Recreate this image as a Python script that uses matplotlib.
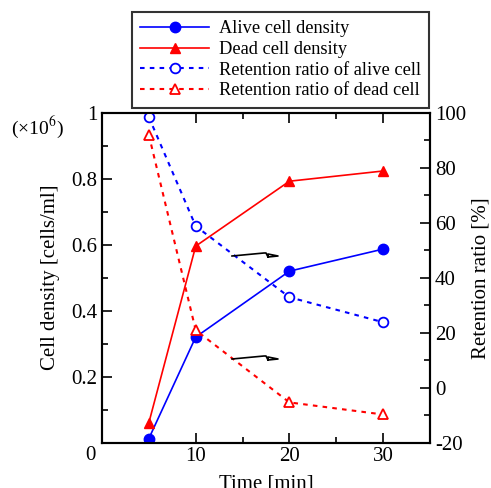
import matplotlib
matplotlib.use("Agg")
import matplotlib.pyplot as plt
from matplotlib.ticker import MultipleLocator, FuncFormatter
from matplotlib.lines import Line2D

plt.rcParams['font.family'] = ['Liberation Serif', 'DejaVu Serif']
plt.rcParams['mathtext.fontset'] = 'stix'
plt.rcParams['axes.unicode_minus'] = False
plt.rcParams['xtick.direction'] = 'in'
plt.rcParams['ytick.direction'] = 'in'

time = [5, 10, 20, 30]
alive_density = [0.012, 0.32, 0.52, 0.587]
dead_density = [0.06, 0.596, 0.793, 0.824]
alive_retention = [98.5, 58.8, 32.9, 23.8]
dead_retention = [92.0, 20.9, -5.4, -9.8]

fig = plt.figure(figsize=(4.91, 4.88), dpi=100)
ax = fig.add_axes([102/491, 1-442.5/488, (430-102)/491, (442.5-113)/488])
ax2 = ax.twinx()

blue = '#0000ff'
red = '#ff0000'
fs = 15

l1, = ax.plot(time, alive_density, '-', color=blue, lw=1.2, marker='o', ms=7.5, zorder=3)
l2, = ax.plot(time, dead_density, '-', color=red, lw=1.2, marker='^', ms=7.5, zorder=3)
l3, = ax2.plot(time, alive_retention, linestyle=(0, (2.2, 2.5)), color=blue, lw=1.5, marker='o',
               ms=7, mfc='white', mec=blue, mew=1.3)
l4, = ax2.plot(time, dead_retention, linestyle=(0, (2.2, 2.5)), color=red, lw=1.5, marker='^',
               ms=7, mfc='white', mec=red, mew=1.3)

ax.set_xlim(0, 35)
ax.set_ylim(0, 1)
ax2.set_ylim(-20, 100)

ax.xaxis.set_major_locator(MultipleLocator(10))
ax.xaxis.set_minor_locator(MultipleLocator(5))
ax.yaxis.set_major_locator(MultipleLocator(0.2))
ax.yaxis.set_minor_locator(MultipleLocator(0.1))
ax2.yaxis.set_major_locator(MultipleLocator(20))
ax2.yaxis.set_minor_locator(MultipleLocator(10))

ax.xaxis.set_major_formatter(FuncFormatter(lambda v, p: '' if abs(v) < 1e-9 else f'{v:g}'))
ax.yaxis.set_major_formatter(FuncFormatter(lambda v, p: '' if abs(v) < 1e-9 else f'{v:g}'))
ax2.yaxis.set_major_formatter(FuncFormatter(lambda v, p: f'{v:g}'))

ax.tick_params(axis='x', which='both', direction='in', top=True, bottom=True)
ax.tick_params(axis='y', which='both', direction='in', left=True, right=False)
ax.tick_params(labelsize=fs)
ax.tick_params(which='major', length=7, width=1.2)
ax.tick_params(which='minor', length=4, width=1.2)
ax2.tick_params(axis='y', which='both', direction='in', right=True, labelsize=fs)
ax2.tick_params(which='major', length=7, width=1.2)
ax2.tick_params(which='minor', length=4, width=1.2)
for a in (ax, ax2):
    for s in a.spines.values():
        s.set_linewidth(1.5)

ax.set_xlabel('Time [min]', fontsize=fs, labelpad=6)
ax.set_ylabel('Cell density [cells/ml]', fontsize=fs, labelpad=8)
ax2.set_ylabel('Retention ratio [%]', fontsize=fs, labelpad=4)

fig.text(90/491, 1-455/488, '0', fontsize=fs, ha='center', va='center')
fig.text(37/491, 1-127/488, r'(×10$^6$)', fontsize=fs-1, ha='center', va='center')

leg = fig.legend([l1, l2, l3, l4],
                 ['Alive cell density', 'Dead cell density',
                  'Retention ratio of alive cell', 'Retention ratio of dead cell'],
                 loc='upper left', bbox_to_anchor=(132/491, 1-12/488), borderaxespad=0,
                 fontsize=13.2, frameon=True, fancybox=False, edgecolor='black',
                 handlelength=3.75, labelspacing=0.2, borderpad=0.45, handletextpad=0.55)
leg.get_frame().set_linewidth(1.5)

def zigzag(y):
    xs = [232, 264, 266, 268, 278, 268, 268]
    ys = [y + 1, y - 2, y - 2, y + 2, y + 1, y - 1, y + 2]
    fig.add_artist(Line2D([v/491 for v in xs], [1 - v/488 for v in ys], color='black', lw=1.2,
                          transform=fig.transFigure))

zigzag(255)
zigzag(358)

fig.savefig('out.png', dpi=100)
